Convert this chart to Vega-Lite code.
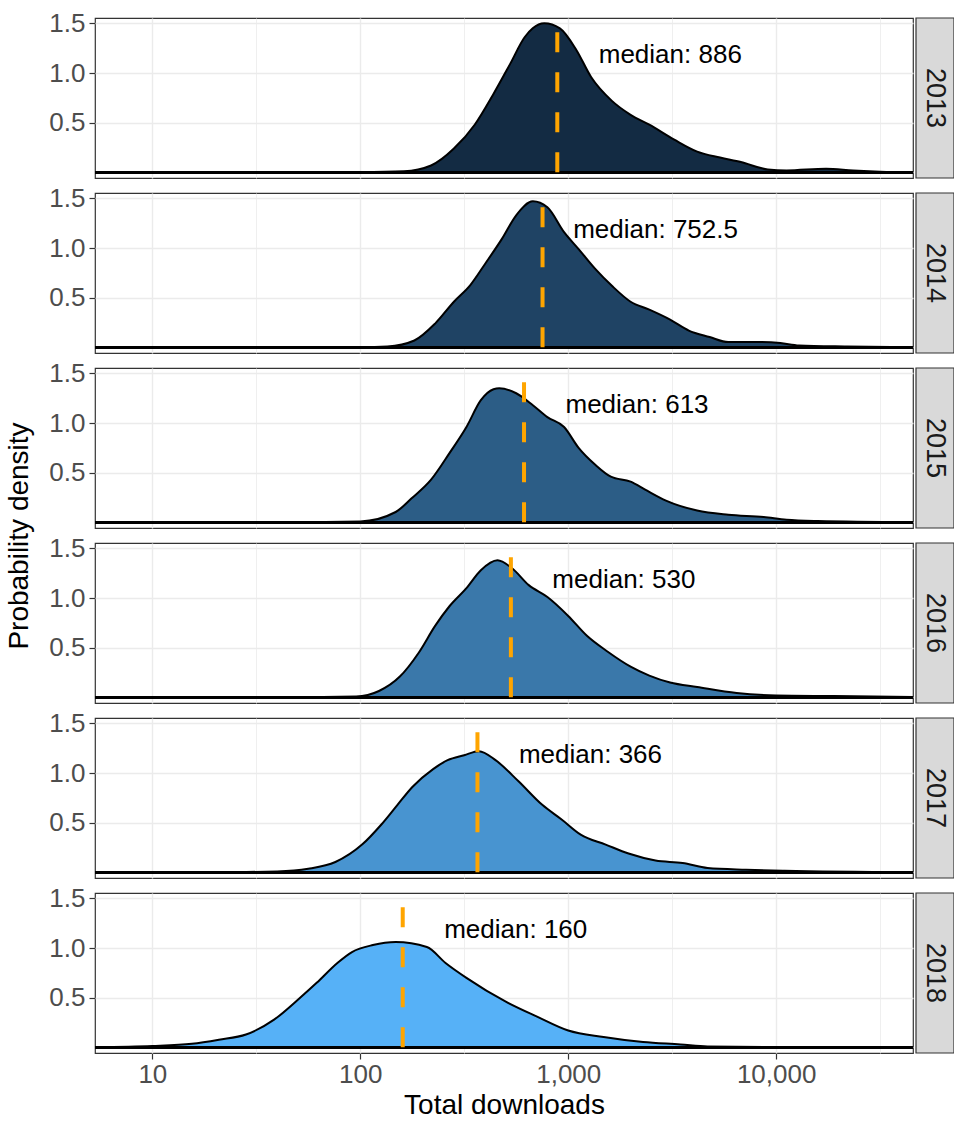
{
  "$schema": "https://vega.github.io/schema/vega-lite/v6.json",
  "padding": {"left": 5, "top": 10, "right": 0, "bottom": 0},
  "background": "white",
  "data": {"values": [
    {"year": 2013, "downloads": 5.3, "density": 0},
    {"year": 2013, "downloads": 31.6, "density": 0},
    {"year": 2013, "downloads": 100, "density": 0.004},
    {"year": 2013, "downloads": 162, "density": 0.012},
    {"year": 2013, "downloads": 219, "density": 0.07},
    {"year": 2013, "downloads": 282, "density": 0.24},
    {"year": 2013, "downloads": 355, "density": 0.48},
    {"year": 2013, "downloads": 437, "density": 0.79},
    {"year": 2013, "downloads": 525, "density": 1.09},
    {"year": 2013, "downloads": 617, "density": 1.36},
    {"year": 2013, "downloads": 675, "density": 1.45},
    {"year": 2013, "downloads": 767, "density": 1.5},
    {"year": 2013, "downloads": 912, "density": 1.45},
    {"year": 2013, "downloads": 1096, "density": 1.23},
    {"year": 2013, "downloads": 1288, "density": 0.96},
    {"year": 2013, "downloads": 1622, "density": 0.72},
    {"year": 2013, "downloads": 1995, "density": 0.58},
    {"year": 2013, "downloads": 2455, "density": 0.48},
    {"year": 2013, "downloads": 3236, "density": 0.33},
    {"year": 2013, "downloads": 4169, "density": 0.21},
    {"year": 2013, "downloads": 5370, "density": 0.15},
    {"year": 2013, "downloads": 6761, "density": 0.105},
    {"year": 2013, "downloads": 9120, "density": 0.03},
    {"year": 2013, "downloads": 11220, "density": 0.02},
    {"year": 2013, "downloads": 17378, "density": 0.037},
    {"year": 2013, "downloads": 23442, "density": 0.02},
    {"year": 2013, "downloads": 31623, "density": 0.008},
    {"year": 2013, "downloads": 45500, "density": 0},

    {"year": 2014, "downloads": 5.3, "density": 0},
    {"year": 2014, "downloads": 31.6, "density": 0},
    {"year": 2014, "downloads": 100, "density": 0.003},
    {"year": 2014, "downloads": 135, "density": 0.01},
    {"year": 2014, "downloads": 182, "density": 0.07},
    {"year": 2014, "downloads": 229, "density": 0.24},
    {"year": 2014, "downloads": 282, "density": 0.46},
    {"year": 2014, "downloads": 339, "density": 0.63},
    {"year": 2014, "downloads": 398, "density": 0.84},
    {"year": 2014, "downloads": 479, "density": 1.09},
    {"year": 2014, "downloads": 562, "density": 1.33},
    {"year": 2014, "downloads": 676, "density": 1.47},
    {"year": 2014, "downloads": 794, "density": 1.41},
    {"year": 2014, "downloads": 955, "density": 1.16},
    {"year": 2014, "downloads": 1122, "density": 0.99},
    {"year": 2014, "downloads": 1349, "density": 0.79},
    {"year": 2014, "downloads": 1622, "density": 0.62},
    {"year": 2014, "downloads": 1995, "density": 0.46},
    {"year": 2014, "downloads": 2455, "density": 0.38},
    {"year": 2014, "downloads": 3090, "density": 0.28},
    {"year": 2014, "downloads": 3802, "density": 0.17},
    {"year": 2014, "downloads": 4786, "density": 0.105},
    {"year": 2014, "downloads": 5888, "density": 0.054},
    {"year": 2014, "downloads": 8318, "density": 0.054},
    {"year": 2014, "downloads": 10471, "density": 0.044},
    {"year": 2014, "downloads": 12882, "density": 0.02},
    {"year": 2014, "downloads": 21878, "density": 0.01},
    {"year": 2014, "downloads": 45500, "density": 0.003},

    {"year": 2015, "downloads": 5.3, "density": 0},
    {"year": 2015, "downloads": 31.6, "density": 0},
    {"year": 2015, "downloads": 100, "density": 0.01},
    {"year": 2015, "downloads": 148, "density": 0.105},
    {"year": 2015, "downloads": 176, "density": 0.24},
    {"year": 2015, "downloads": 219, "density": 0.43},
    {"year": 2015, "downloads": 269, "density": 0.7},
    {"year": 2015, "downloads": 324, "density": 0.96},
    {"year": 2015, "downloads": 380, "density": 1.23},
    {"year": 2015, "downloads": 437, "density": 1.34},
    {"year": 2015, "downloads": 466, "density": 1.35},
    {"year": 2015, "downloads": 562, "density": 1.3},
    {"year": 2015, "downloads": 676, "density": 1.18},
    {"year": 2015, "downloads": 794, "density": 1.06},
    {"year": 2015, "downloads": 955, "density": 0.96},
    {"year": 2015, "downloads": 1122, "density": 0.75},
    {"year": 2015, "downloads": 1349, "density": 0.58},
    {"year": 2015, "downloads": 1603, "density": 0.46},
    {"year": 2015, "downloads": 1995, "density": 0.41},
    {"year": 2015, "downloads": 2344, "density": 0.33},
    {"year": 2015, "downloads": 2951, "density": 0.22},
    {"year": 2015, "downloads": 4169, "density": 0.12},
    {"year": 2015, "downloads": 5888, "density": 0.078},
    {"year": 2015, "downloads": 8710, "density": 0.054},
    {"year": 2015, "downloads": 11220, "density": 0.027},
    {"year": 2015, "downloads": 15849, "density": 0.014},
    {"year": 2015, "downloads": 45500, "density": 0.002},

    {"year": 2016, "downloads": 5.3, "density": 0},
    {"year": 2016, "downloads": 31.6, "density": 0},
    {"year": 2016, "downloads": 95.5, "density": 0.01},
    {"year": 2016, "downloads": 123, "density": 0.065},
    {"year": 2016, "downloads": 155, "density": 0.21},
    {"year": 2016, "downloads": 191, "density": 0.45},
    {"year": 2016, "downloads": 229, "density": 0.72},
    {"year": 2016, "downloads": 269, "density": 0.92},
    {"year": 2016, "downloads": 324, "density": 1.1},
    {"year": 2016, "downloads": 380, "density": 1.28},
    {"year": 2016, "downloads": 457, "density": 1.38},
    {"year": 2016, "downloads": 537, "density": 1.3},
    {"year": 2016, "downloads": 646, "density": 1.13},
    {"year": 2016, "downloads": 794, "density": 1.01},
    {"year": 2016, "downloads": 1000, "density": 0.82},
    {"year": 2016, "downloads": 1230, "density": 0.62},
    {"year": 2016, "downloads": 1549, "density": 0.46},
    {"year": 2016, "downloads": 1995, "density": 0.31},
    {"year": 2016, "downloads": 2455, "density": 0.22},
    {"year": 2016, "downloads": 3090, "density": 0.15},
    {"year": 2016, "downloads": 4169, "density": 0.105},
    {"year": 2016, "downloads": 6457, "density": 0.044},
    {"year": 2016, "downloads": 10000, "density": 0.02},
    {"year": 2016, "downloads": 19055, "density": 0.014},
    {"year": 2016, "downloads": 45500, "density": 0.005},

    {"year": 2017, "downloads": 5.3, "density": 0},
    {"year": 2017, "downloads": 20, "density": 0.002},
    {"year": 2017, "downloads": 39.8, "density": 0.01},
    {"year": 2017, "downloads": 56.2, "density": 0.037},
    {"year": 2017, "downloads": 75.9, "density": 0.105},
    {"year": 2017, "downloads": 102, "density": 0.28},
    {"year": 2017, "downloads": 126, "density": 0.48},
    {"year": 2017, "downloads": 151, "density": 0.68},
    {"year": 2017, "downloads": 178, "density": 0.86},
    {"year": 2017, "downloads": 224, "density": 1.04},
    {"year": 2017, "downloads": 263, "density": 1.13},
    {"year": 2017, "downloads": 316, "density": 1.18},
    {"year": 2017, "downloads": 372, "density": 1.22},
    {"year": 2017, "downloads": 447, "density": 1.13},
    {"year": 2017, "downloads": 575, "density": 0.92},
    {"year": 2017, "downloads": 750, "density": 0.68},
    {"year": 2017, "downloads": 933, "density": 0.53},
    {"year": 2017, "downloads": 1148, "density": 0.38},
    {"year": 2017, "downloads": 1514, "density": 0.28},
    {"year": 2017, "downloads": 1950, "density": 0.19},
    {"year": 2017, "downloads": 2630, "density": 0.12},
    {"year": 2017, "downloads": 3548, "density": 0.095},
    {"year": 2017, "downloads": 4677, "density": 0.044},
    {"year": 2017, "downloads": 7161, "density": 0.027},
    {"year": 2017, "downloads": 10965, "density": 0.017},
    {"year": 2017, "downloads": 45500, "density": 0.003},

    {"year": 2018, "downloads": 5.3, "density": 0.002},
    {"year": 2018, "downloads": 10, "density": 0.014},
    {"year": 2018, "downloads": 15.5, "density": 0.037},
    {"year": 2018, "downloads": 20.9, "density": 0.078},
    {"year": 2018, "downloads": 28.2, "density": 0.13},
    {"year": 2018, "downloads": 38.5, "density": 0.28},
    {"year": 2018, "downloads": 50.1, "density": 0.48},
    {"year": 2018, "downloads": 61.7, "density": 0.65},
    {"year": 2018, "downloads": 77.6, "density": 0.85},
    {"year": 2018, "downloads": 91.2, "density": 0.96},
    {"year": 2018, "downloads": 115, "density": 1.03},
    {"year": 2018, "downloads": 148, "density": 1.06},
    {"year": 2018, "downloads": 209, "density": 1.01},
    {"year": 2018, "downloads": 257, "density": 0.85},
    {"year": 2018, "downloads": 324, "density": 0.7},
    {"year": 2018, "downloads": 501, "density": 0.46},
    {"year": 2018, "downloads": 708, "density": 0.31},
    {"year": 2018, "downloads": 1000, "density": 0.17},
    {"year": 2018, "downloads": 1479, "density": 0.105},
    {"year": 2018, "downloads": 2291, "density": 0.054},
    {"year": 2018, "downloads": 3467, "density": 0.03},
    {"year": 2018, "downloads": 4677, "density": 0.01},
    {"year": 2018, "downloads": 10000, "density": 0.004},
    {"year": 2018, "downloads": 45500, "density": 0},

    {"year": 2013, "median": 886, "label": "median: 886"},
    {"year": 2014, "median": 752.5, "label": "median: 752.5"},
    {"year": 2015, "median": 613, "label": "median: 613"},
    {"year": 2016, "median": 530, "label": "median: 530"},
    {"year": 2017, "median": 366, "label": "median: 366"},
    {"year": 2018, "median": 160, "label": "median: 160"}
  ]},
  "spacing": -2,
  "hconcat": [
    {
      "facet": {"row": {"field": "year", "type": "ordinal", "header": {"title": "Probability density", "labels": false, "titleFontSize": 28, "titleFontWeight": "normal", "titleColor": "#000000", "titleOrient": "left", "titlePadding": 4}}},
      "spacing": 15,
      "bounds": "flush",
      "spec": {
        "width": 818,
        "height": 160,
        "layer": [
          {
            "transform": [{"filter": "isValid(datum.density)"}],
            "mark": {"type": "area", "interpolate": "monotone", "stroke": "black", "strokeWidth": 2, "clip": true},
            "encoding": {
              "x": {"field": "downloads", "type": "quantitative", "title": "Total downloads",
                "scale": {"type": "log", "domain": [5.3, 45500], "nice": false},
                "axis": {
                  "values": [10, 31.6228, 100, 316.228, 1000, 3162.28, 10000, 31622.8],
                  "labelExpr": "indexof([10,100,1000,10000], datum.value) >= 0 ? format(datum.value, ',') : ''",
                  "tickOpacity": {"condition": {"test": "indexof([10,100,1000,10000], datum.value) < 0", "value": 0}, "value": 1},
                  "gridWidth": {"condition": {"test": "indexof([10,100,1000,10000], datum.value) < 0", "value": 0.8}, "value": 1.4},
                  "labelPadding": 2, "titlePadding": 4
                }},
              "y": {"field": "density", "type": "quantitative", "title": null,
                "scale": {"domain": [-0.056, 1.554], "nice": false, "zero": false},
                "axis": {
                  "values": [0, 0.25, 0.5, 0.75, 1, 1.25, 1.5],
                  "labelExpr": "indexof([0.5,1,1.5], datum.value) >= 0 ? format(datum.value, '.1f') : ''",
                  "tickOpacity": {"condition": {"test": "indexof([0.5,1,1.5], datum.value) < 0", "value": 0}, "value": 1},
                  "gridWidth": {"condition": {"test": "indexof([0.5,1,1.5], datum.value) < 0", "value": 0.8}, "value": 1.4},
                  "labelPadding": 4
                }},
              "fill": {"field": "year", "type": "quantitative", "legend": null,
                "scale": {"domain": [2013, 2018], "range": ["#132B43", "#56B1F7"], "interpolate": "lab"}}
            }
          },
          {
            "transform": [{"filter": "isValid(datum.median)"}],
            "mark": {"type": "rule", "color": "#000000", "strokeWidth": 3},
            "encoding": {"y": {"datum": 0}}
          },
          {
            "transform": [{"filter": "isValid(datum.median)"}],
            "mark": {"type": "rule", "color": "#FFA500", "strokeWidth": 4, "strokeDash": [20, 20]},
            "encoding": {
              "x": {"field": "median", "type": "quantitative"},
              "y": {"datum": 1.41},
              "y2": {"datum": -0.056}
            }
          },
          {
            "transform": [{"filter": "isValid(datum.median)"}],
            "mark": {"type": "text", "fontSize": 26, "dx": 113, "align": "center", "baseline": "middle", "color": "#000000"},
            "encoding": {
              "x": {"field": "median", "type": "quantitative"},
              "y": {"datum": 1.18},
              "text": {"field": "label", "type": "nominal"}
            }
          }
        ]
      }
    },
    {
      "facet": {"row": {"field": "year", "type": "ordinal", "header": null}},
      "spacing": 15,
      "bounds": "flush",
      "spec": {
        "width": 38,
        "height": 160,
        "transform": [{"filter": "isValid(datum.median)"}],
        "layer": [
          {"mark": {"type": "rect", "fill": "#D9D9D9", "stroke": "#333333", "strokeWidth": 1.2}, "encoding": {}},
          {"mark": {"type": "text", "angle": 90, "fontSize": 27, "color": "#1A1A1A", "align": "center", "baseline": "middle"},
           "encoding": {"text": {"field": "year", "type": "nominal"}}}
        ]
      }
    }
  ],
  "config": {
    "font": "Liberation Sans",
    "view": {"stroke": "#333333", "strokeWidth": 1.2},
    "axis": {"domain": false, "gridColor": "#EBEBEB", "tickColor": "#333333", "tickSize": 6, "tickWidth": 1.2,
      "labelFontSize": 26, "labelColor": "#4D4D4D", "titleFontSize": 28, "titleFontWeight": "normal", "titleColor": "#000000"}
  }
}
